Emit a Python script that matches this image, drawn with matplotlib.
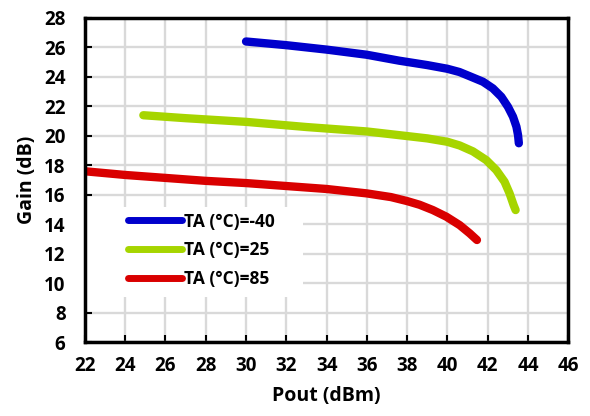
import matplotlib.pyplot as plt
from matplotlib.patches import Rectangle

# Gain vs output power at three ambient temperatures
pout_m40 = [30.0, 32.0, 34.0, 36.0, 37.6, 39.0, 40.0, 40.6, 41.1, 41.77, 42.26, 42.68,
            43.01, 43.26, 43.43, 43.51, 43.55]
gain_m40 = [26.4, 26.15, 25.85, 25.5, 25.1, 24.8, 24.55, 24.33, 24.05, 23.67, 23.22, 22.65,
            21.97, 21.3, 20.62, 20.05, 19.5]

pout_25 = [24.9, 27.0, 30.0, 33.0, 36.0, 37.6, 39.0, 40.0, 40.61, 41.27, 41.93,
           42.43, 42.84, 43.09, 43.29, 43.39]
gain_25 = [21.4, 21.2, 20.95, 20.6, 20.3, 20.05, 19.83, 19.6, 19.35, 18.95, 18.36,
           17.68, 16.89, 16.1, 15.31, 14.97]

pout_85 = [21.5, 22.0, 24.0, 26.0, 28.0, 30.0, 32.0, 34.0, 36.0, 37.2, 38.0, 38.62,
           39.28, 39.95, 40.61, 41.11, 41.47]
gain_85 = [17.65, 17.6, 17.35, 17.15, 16.95, 16.8, 16.6, 16.4, 16.1, 15.85, 15.58, 15.33,
           14.97, 14.52, 13.95, 13.39, 12.94]

labels = ['TA (°C)=-40', 'TA (°C)=25', 'TA (°C)=85']
colors = ['#0000cc', '#a6d500', '#d90000']

xticks = list(range(22, 47, 2))
yticks = list(range(6, 29, 2))

plt.rcParams['font.family'] = ['Open Sans', 'DejaVu Sans']
plt.rcParams['font.weight'] = 'bold'

fig = plt.figure(figsize=(5.9, 4.16), dpi=100)
ax = fig.add_axes([0.144, 0.177, 0.819, 0.780])

series = [(pout_m40, gain_m40), (pout_25, gain_25), (pout_85, gain_85)]
for (x, y), lab, c in zip(series, labels, colors):
    ax.plot(x, y, color=c, linewidth=6, solid_capstyle='round',
            solid_joinstyle='round', label=lab, zorder=3)

ax.set_xlim(22, 46)
ax.set_ylim(6, 28)
ax.set_xticks(xticks)
ax.set_yticks(yticks)
ax.grid(True, color='#d9d9d9', linewidth=1.7)
ax.set_axisbelow(True)
for s in ax.spines.values():
    s.set_linewidth(2.5)
    s.set_color('black')
    s.set_zorder(4)
ax.tick_params(direction='in', length=5, width=1.5, labelsize=13.5)
ax.tick_params(axis='x', pad=10)
ax.tick_params(axis='y', pad=14)
for t in ax.get_xticklabels() + ax.get_yticklabels():
    t.set_fontweight('bold')

ax.set_xlabel('Pout (dBm)', fontsize=14, fontweight='bold', labelpad=7)
ax.set_ylabel('Gain (dB)', fontsize=14, fontweight='bold', labelpad=5)

# white box behind the legend hides the grid
ax.add_patch(Rectangle((0.004, 0.14), 0.447, 0.277, transform=ax.transAxes,
                       facecolor='white', edgecolor='none', zorder=2))
leg = ax.legend(loc='upper left', bbox_to_anchor=(0.089, 0.400), fontsize=12.5,
                handlelength=3.1, handletextpad=0.1, labelspacing=0.62,
                borderaxespad=0.0, borderpad=0.0, frameon=False)
for t in leg.get_texts():
    t.set_fontweight('bold')
for h in leg.get_lines():
    h.set_linewidth(5)

fig.savefig('out.png', dpi=100)
